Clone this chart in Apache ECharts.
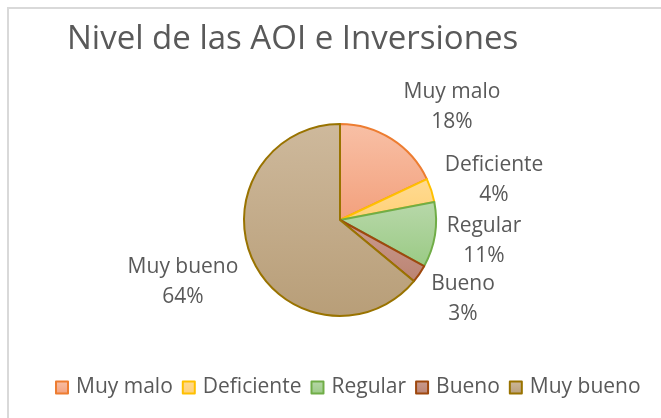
<!DOCTYPE html>
<html>
<head>
<meta charset="utf-8">
<script src="https://cdn.jsdelivr.net/npm/echarts@6/dist/echarts.min.js"></script>
<style>html,body{margin:0;padding:0;background:#fff}#c{width:661px;height:418px}</style>
</head>
<body>
<div id="c"></div>
<script>
const categories = ['Muy malo', 'Deficiente', 'Regular', 'Bueno', 'Muy bueno'];
const values = [18, 4, 11, 3, 64];
const titleText = 'Nivel de las AOI e Inversiones';

const fillTop = ['#F8C0A6', '#FFDB92', '#B8D8AA', '#CA9C90', '#CEB99C'];
const fillBottom = ['#F3A07C', '#FFD078', '#9ACA84', '#BB8372', '#B89E78'];
const borders = ['#ED7D31', '#FFC000', '#70AD47', '#9E480E', '#997300'];
const labelPos = [[452, 107], [494, 180], [484, 241], [463, 299], [183, 282]];
const FONT = 'Open Sans';

const chart = echarts.init(document.getElementById('c'), null, {renderer: 'canvas'});
chart.setOption({
  animation: false,
  title: {
    text: titleText, left: 62, top: 18,
    textStyle: {fontFamily: FONT, fontSize: 33, fontWeight: 'normal', color: '#595959'}
  },
  graphic: [{
    type: 'rect', shape: {x: 8, y: 8, width: 700, height: 500},
    style: {fill: 'none', stroke: '#D9D9D9', lineWidth: 2}, silent: true, z: -1
  }],
  legend: {
    top: 372, left: 50, itemWidth: 12, itemHeight: 12, itemGap: 9,
    icon: 'rect',
    textStyle: {fontFamily: FONT, fontSize: 21, color: '#595959', padding: [0, 0, 0, 3]},
    data: categories
  },
  series: [{
    type: 'pie', center: [340, 220], radius: 96, startAngle: 90, clockwise: true,
    data: categories.map((c, i) => ({
      name: c, value: values[i],
      itemStyle: {
        color: {type: 'linear', x: 0, y: 0, x2: 0, y2: 1, colorStops: [
          {offset: 0, color: fillTop[i]}, {offset: 1, color: fillBottom[i]}]},
        borderColor: borders[i], borderWidth: 2
      }
    })),
    label: {
      show: true, position: 'outside', formatter: '{b}\n{d}%',
      fontFamily: FONT, fontSize: 21, color: '#595959', lineHeight: 30, align: 'center'
    },
    labelLine: {show: false},
    labelLayout: function (p) {
      const pos = labelPos[p.dataIndex];
      return {x: pos[0], y: pos[1], align: 'center', verticalAlign: 'middle'};
    },
    emphasis: {disabled: true}
  }]
});
</script>
</body>
</html>
